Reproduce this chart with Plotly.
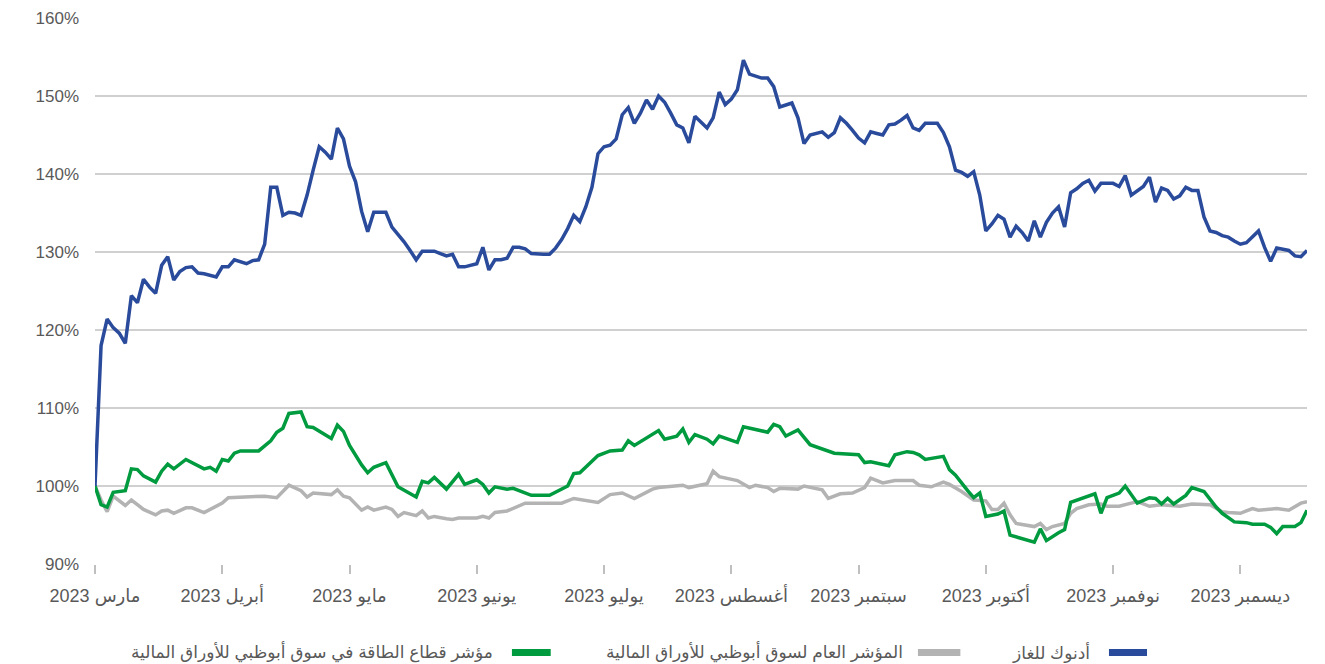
import plotly.graph_objects as go

# ---- data -------------------------------------------------------------
month_labels = ["مارس 2023", "أبريل 2023", "مايو 2023", "يونيو 2023", "يوليو 2023",
                "أغسطس 2023", "سبتمبر 2023", "أكتوبر 2023", "نوفمبر 2023", "ديسمبر 2023"]
month_start_day = [0, 21, 42, 63, 84, 105, 126, 147, 168, 189]   # trading-day index of each month tick

series_names = ["أدنوك للغاز",
                "المؤشر العام لسوق أبوظبي للأوراق المالية",
                "مؤشر قطاع الطاقة في سوق أبوظبي للأوراق المالية"]

# ADNOC Gas - one value per trading day (day 0 .. 200), % of base
adnoc_gas = [100, 118, 121.4, 120.3, 119.6, 118.3, 124.4, 123.5, 126.5, 125.5,
             124.7, 128.3, 129.4, 126.4, 127.5, 128.0, 128.1, 127.3, 127.2, 127.0,
             126.8, 128.1, 128.1, 129.0, 128.8, 128.5, 128.9, 129.0, 131.0, 138.3,
             138.3, 134.7, 135.1, 135.0, 134.7, 137.3, 140.5, 143.5, 142.8, 141.9,
             145.9, 144.5, 141.0, 139.0, 135.2, 132.6, 135.1, 135.1, 135.1, 133.2,
             132.3, 131.3, 130.2, 129.0, 130.1, 130.1, 130.1, 129.8, 129.5, 129.7,
             128.1, 128.1, 128.3, 128.5, 130.6, 127.7, 129.0, 129.0, 129.2, 130.6,
             130.6, 130.4, 129.8, 129.7, 129.7, 129.7, 130.5, 131.6, 133.0, 134.7,
             133.9, 135.8, 138.3, 142.6, 143.5, 143.7, 144.5, 147.6, 148.5, 146.5,
             147.8, 149.5, 148.3, 150.0, 149.2, 147.8, 146.3, 145.9, 144.0, 147.4,
             146.7, 145.9, 147.2, 150.5, 148.9, 149.6, 150.8, 154.6, 152.8, 152.6,
             152.3, 152.3, 151.2, 148.6, 148.8, 149.1, 147.2, 143.9, 145.0, 145.2,
             145.4, 144.7, 145.3, 147.2, 146.5, 145.6, 144.6, 144.0, 145.4, 145.2,
             145.0, 146.3, 146.4, 146.9, 147.5, 145.9, 145.6, 146.5, 146.5, 146.5,
             145.3, 143.5, 140.5, 140.2, 139.7, 140.3, 137.3, 132.7, 133.6, 134.7,
             134.2, 131.9, 133.3, 132.5, 131.4, 134.0, 131.9, 133.8, 135.0, 135.8,
             133.2, 137.6, 138.1, 138.8, 139.2, 137.8, 138.8, 138.8, 138.8, 138.4,
             139.8, 137.3, 137.8, 138.4, 139.6, 136.4, 138.2, 137.9, 136.8, 137.2,
             138.3, 137.9, 137.9, 134.5, 132.7, 132.5, 132.1, 131.9, 131.4, 131.0,
             131.2, 131.9, 132.7, 130.6, 128.8, 130.5, 130.3, 130.2, 129.5, 129.4,
             130.2]
adnoc_days = list(range(len(adnoc_gas)))

# ADX general index (turning points)
adx_days = [0, 1, 2, 3, 5, 6, 7, 8, 10, 11, 12, 13, 15, 16, 18, 21, 22, 24, 28, 30,
            32, 34, 35, 36, 39, 40, 41, 42, 44, 45, 46, 48, 49, 50, 51, 53, 54, 55, 56, 58,
            59, 60, 63, 64, 65, 66, 68, 71, 77, 79, 81, 83, 85, 87, 89, 92, 93, 97, 98, 100,
            101, 102, 103, 106, 108, 109, 111, 112, 113, 116, 117, 120, 121, 123, 125, 127, 128, 130, 132, 135,
            136, 138, 140, 141, 142, 143, 145, 147, 148, 149, 150, 151, 152, 155, 156, 157, 158, 160, 161, 162,
            164, 166, 167, 169, 171, 172, 174, 176, 179, 181, 184, 186, 187, 189, 190, 191, 192, 194, 195, 197,
            198, 199, 200]
adx_index = [100, 98.2, 96.7, 98.7, 97.5, 98.2, 97.6, 97.0, 96.3, 96.8, 96.9, 96.5, 97.2, 97.2, 96.6, 97.8, 98.5, 98.6, 98.7, 98.5,
             100.1, 99.4, 98.6, 99.1, 98.9, 99.5, 98.7, 98.5, 96.9, 97.3, 96.9, 97.3, 97.0, 96.1, 96.6, 96.2, 96.8, 95.9, 96.1, 95.8,
             95.7, 95.9, 95.9, 96.1, 95.9, 96.6, 96.8, 97.8, 97.8, 98.4, 98.2, 97.9, 98.9, 99.1, 98.4, 99.6, 99.8, 100.1, 99.8, 100.1,
             100.3, 101.9, 101.2, 100.7, 99.8, 100.1, 99.8, 99.3, 99.7, 99.6, 100.0, 99.5, 98.4, 99.0, 99.1, 99.8, 101.0, 100.4, 100.7, 100.7,
             100.1, 99.9, 100.5, 100.2, 99.8, 99.3, 98.2, 98.1, 97.0, 97.0, 97.8, 96.3, 95.2, 94.8, 95.2, 94.4, 94.8, 95.2, 96.5, 97.1,
             97.6, 97.7, 97.4, 97.4, 97.8, 98.0, 97.4, 97.6, 97.4, 97.7, 97.6, 96.7, 96.6, 96.5, 96.8, 97.1, 96.9, 97.1, 97.1, 96.9,
             97.3, 97.8, 98.0]

# ADX energy sector index (turning points)
energy_days = [0, 1, 2, 3, 5, 6, 7, 8, 10, 11, 12, 13, 15, 16, 18, 19, 20, 21, 22, 23,
               24, 27, 29, 30, 31, 32, 34, 35, 36, 39, 40, 41, 42, 44, 45, 46, 48, 50, 53, 54,
               55, 56, 58, 60, 61, 63, 64, 65, 66, 68, 69, 72, 75, 78, 79, 80, 83, 85, 87, 88,
               89, 93, 94, 96, 97, 98, 99, 101, 102, 103, 106, 107, 109, 111, 112, 113, 114, 116, 118, 120,
               122, 126, 127, 128, 131, 132, 134, 135, 136, 137, 140, 141, 142, 144, 145, 146, 147, 149, 150, 151,
               155, 156, 157, 159, 160, 161, 165, 166, 167, 169, 170, 172, 174, 175, 176, 177, 178, 180, 181, 183,
               185, 186, 188, 190, 191, 193, 194, 195, 196, 198, 199, 200]
energy_index = [100, 97.6, 97.3, 99.2, 99.4, 102.2, 102.1, 101.3, 100.5, 101.9, 102.8, 102.2, 103.4, 103.0, 102.2, 102.4, 101.9, 103.4, 103.2, 104.2,
                104.5, 104.5, 105.8, 106.9, 107.4, 109.3, 109.5, 107.6, 107.5, 106.1, 107.8, 107.0, 105.2, 102.7, 101.7, 102.4, 103.0, 99.9, 98.6, 100.6,
                100.4, 101.1, 99.6, 101.5, 100.2, 100.8, 100.2, 99.1, 99.9, 99.6, 99.7, 98.8, 98.8, 100.0, 101.6, 101.7, 103.9, 104.5, 104.6, 105.8,
                105.2, 107.1, 106.0, 106.4, 107.3, 105.6, 106.6, 106.0, 105.4, 106.4, 105.6, 107.6, 107.3, 106.9, 107.9, 107.6, 106.4, 107.2, 105.3, 104.7,
                104.2, 104.0, 103.0, 103.1, 102.6, 104.0, 104.4, 104.3, 104.0, 103.4, 103.8, 102.1, 101.4, 99.4, 98.5, 99.1, 96.1, 96.4, 96.8, 93.7,
                92.8, 94.5, 93.0, 94.0, 94.4, 97.9, 99.0, 96.5, 98.5, 99.1, 100.0, 97.8, 98.5, 98.4, 97.7, 98.4, 97.7, 98.8, 99.8, 99.3,
                97.3, 96.5, 95.4, 95.3, 95.1, 95.1, 94.7, 93.9, 94.8, 94.8, 95.3, 96.9]

y_ticks = [90, 100, 110, 120, 130, 140, 150, 160]

# ---- style ------------------------------------------------------------
BLUE = "#2a4b9b"
GRAY = "#b3b3b3"
GREEN = "#009a3f"
TXT = "#595959"
FONT = "Liberation Sans, DejaVu Sans, sans-serif"

fig = go.Figure()
fig.add_trace(go.Scatter(x=adx_days, y=adx_index, mode="lines", name=series_names[1],
                         line=dict(color=GRAY, width=3.5), showlegend=False))
fig.add_trace(go.Scatter(x=energy_days, y=energy_index, mode="lines", name=series_names[2],
                         line=dict(color=GREEN, width=3.5), showlegend=False))
fig.add_trace(go.Scatter(x=adnoc_days, y=adnoc_gas, mode="lines", name=series_names[0],
                         line=dict(color=BLUE, width=3.5), showlegend=False))

# page body has an 8px margin, so the figure is sized/offset to compensate
fig.update_layout(
    width=1317, height=656,
    margin=dict(l=87, r=18, t=10, b=100, autoexpand=False),
    paper_bgcolor="white", plot_bgcolor="white",
    font=dict(family=FONT, size=17, color=TXT),
    showlegend=False,
)
fig.update_xaxes(
    range=[0, 200], tickmode="array", tickvals=month_start_day, ticktext=month_labels,
    showgrid=False, zeroline=False, showline=False, automargin=False,
    ticks="outside", ticklen=9, tickwidth=1.5, tickcolor="#bfbfbf",
    ticklabelstandoff=6,
    tickfont=dict(size=18, color=TXT),
)
fig.update_yaxes(
    range=[90, 160], tickmode="array", tickvals=y_ticks,
    ticktext=[f"{v}%" for v in y_ticks],
    showgrid=True, gridcolor="#d0d0d0", gridwidth=1.5,
    zeroline=False, showline=False, ticks="", automargin=False,
    ticklabelstandoff=15,
    tickfont=dict(size=17, color=TXT),
)

# legend drawn right-to-left (swatch on the right of each label)
legend_items = [
    (series_names[0], BLUE, 0.8366, 0.868, 0.8226),
    (series_names[1], GRAY, 0.679, 0.714, 0.668),
    (series_names[2], GREEN, 0.344, 0.376, 0.330),
]
for name, col, x0, x1, xt in legend_items:
    fig.add_shape(type="rect", xref="paper", yref="paper", x0=x0, x1=x1,
                  y0=-0.1685, y1=-0.1557, fillcolor=col, line=dict(width=0))
    fig.add_annotation(text=name, xref="paper", yref="paper", x=xt, y=-0.1612,
                       xanchor="right", yanchor="middle", showarrow=False,
                       font=dict(size=17, color=TXT))

fig.write_html("out.html")
